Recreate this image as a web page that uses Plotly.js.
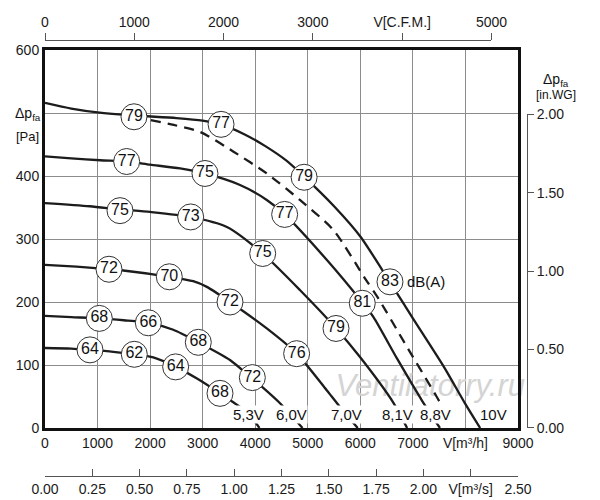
<!DOCTYPE html>
<html>
<head>
<meta charset="utf-8">
<script src="https://cdn.plot.ly/plotly-3.0.1.min.js"></script>
<style>
body{margin:0;background:#fff}
#chart{width:600px;height:500px}
</style>
</head>
<body>
<div id="chart"></div>
<script>
// fan curves, V in m3/h, dp in Pa
var v53 = [0, 500, 860, 1300, 1700, 2060, 2490, 2900, 3330, 3560, 3860, 4080]
var p53 = [127, 126, 124, 121, 117, 112, 97, 78, 55, 42, 24, 0]
var v60 = [0, 500, 1030, 1500, 1970, 2440, 2920, 3520, 3920, 4120, 4500, 4900]
var p60 = [178, 176, 174, 171, 167, 156, 136, 108, 80, 66, 37, 0]
var v70 = [0, 600, 1220, 1490, 2365, 2820, 3080, 3520, 4220, 4790, 5360, 5580, 5950]
var p70 = [259, 256, 252, 250, 240, 233, 224, 200, 158, 118, 60, 37, 0]
var v81 = [0, 850, 1430, 2000, 2770, 3460, 4140, 4850, 5540, 5990, 6630, 6890]
var p81 = [357, 352, 347, 343, 335, 319, 277, 219, 158, 113, 40, 0]
var v88 = [0, 500, 1050, 1550, 2000, 2570, 3040, 3700, 4220, 4560, 5360, 6040, 6250, 6700, 7170, 7515]
var p88 = [431, 428, 425, 423, 418, 412, 404, 386, 362, 339, 267, 199, 176, 110, 44, 0]
var v100 = [0, 500, 1000, 1700, 2500, 3000, 3350, 3800, 4200, 4600, 4930, 5500, 6000, 6560, 7000, 7590, 8000, 8280]
var p100 = [516, 507, 501, 496, 492, 488, 482, 466, 447, 424, 399, 352, 304, 232, 174, 97, 38, 0]
// dashed curve
var vDash = [1700, 2000, 2450, 2950, 3580, 4220, 4850, 5490, 6100, 6340, 6850, 7450, 7600]
var pDash = [494, 489, 481, 470, 439, 404, 362, 314, 236, 206, 134, 50, 28]

// noise level circles dB(A)
var labV = [1693, 3350, 4930, 6564, 1554, 3044, 4560, 6037, 1427, 2772, 4142, 5537,
            1218, 2365, 3520, 4788, 1034, 1966, 2917, 3945, 856, 1699, 2486, 3330]
var labP = [494, 482, 398, 232, 423, 404, 339, 198, 345, 335, 277, 158,
            252, 240, 200, 118, 174, 167, 136, 80, 124, 117, 97, 55]
var labText = ['79', '77', '79', '83', '77', '75', '77', '81', '75', '73', '75', '79',
               '72', '70', '72', '76', '68', '66', '68', '72', '64', '62', '64', '68']

var voltText = ['5,3V', '6,0V', '7,0V', '8,1V', '8,8V', '10V']
var voltV = [3880, 4690, 5740, 6716, 7436, 8530]

var xTicks = [0, 1000, 2000, 3000, 4000, 5000, 6000, 7000, 8000, 9000]
var xTickText = ['0', '1000', '2000', '3000', '4000', '5000', '6000', '7000', 'V[m\u00b3/h]', '9000']
var yTicks = [0, 100, 200, 300, 400, 500, 600]
var yTickText = ['0', '100', '200', '300', '400', '', '600']
var cfmTicks = [0, 1000, 2000, 3000, 4000, 5000]
var cfmTickText = ['0', '1000', '2000', '3000', 'V[C.F.M.]', '5000']
var m3sTicks = [0, 0.25, 0.5, 0.75, 1, 1.25, 1.5, 1.75, 2, 2.25, 2.5]
var m3sTickText = ['0.00', '0.25', '0.50', '0.75', '1.00', '1.25', '1.50', '1.75', '2.00', 'V[m\u00b3/s]', '2.50']
var wgTicks = [0, 0.5, 1, 1.5, 2]
var wgTickText = ['0.00', '0.50', '1.00', '1.50', '2.00']

var CFM = 1.69901   // m3/h per cfm
var INWG = 249.089  // Pa per in.WG

var font = 'Liberation Sans, Arial, sans-serif'
var ink = '#1c1c1c'

// plot frame in pixels: x 45..518, y 50..428 ; outer axes at y=40, y=476, x=527
var W = 482, H = 436
var xDom = [0, 473 / W]
var yDom = [48 / H, 426 / H]
var yDomWG = [yDom[0], yDom[0] + (2 * INWG / 600) * (yDom[1] - yDom[0])]
var cfmDom = [0, xDom[1] * (5000 * CFM / 9000)]

function px(x){ return (x - 45) / W }
function py(y){ return (476 - y) / H }

function curve(v, p, dash){
	return {
		x: v, y: p, mode: 'lines', type: 'scatter',
		line: {color: ink, width: 2.3, shape: 'spline', smoothing: 0.7, dash: dash || 'solid'},
		hoverinfo: 'skip', showlegend: false
	}
}

var data = [
	{x: [7330], y: [63], mode: 'text', text: ['Ventilatorry.ru'], cliponaxis: false,
	 textfont: {family: font, size: 31, color: '#d4d4d4', style: 'italic'},
	 hoverinfo: 'skip', showlegend: false},
	curve(v53, p53), curve(v60, p60), curve(v70, p70), curve(v81, p81),
	curve(v88, p88), curve(v100, p100), curve(vDash, pDash, '10px,7px'),
	{x: labV, y: labP, mode: 'markers+text', text: labText, textposition: 'middle center',
	 marker: {size: 26, color: '#fff', line: {color: '#333', width: 1}},
	 textfont: {family: font, size: 16, color: '#111'},
	 hoverinfo: 'skip', showlegend: false},
	// keep the extra axes alive
	{x: [0], y: [0], xaxis: 'x2', yaxis: 'y2', mode: 'markers', marker: {opacity: 0}, hoverinfo: 'skip', showlegend: false},
	{x: [0], y: [0], xaxis: 'x3', yaxis: 'y2', mode: 'markers', marker: {opacity: 0}, hoverinfo: 'skip', showlegend: false}
]

var annotations = []
for (var i = 0; i < voltText.length; i++) {
	annotations.push({x: voltV[i], y: 21, xref: 'x', yref: 'y', text: voltText[i], showarrow: false,
		font: {family: font, size: 15, color: '#111'}, bgcolor: '#fff', borderpad: 0})
}
annotations.push({x: 6850, y: 232, xref: 'x', yref: 'y', xanchor: 'left', text: 'dB(A)', showarrow: false,
	font: {family: font, size: 15, color: '#111'}})
annotations.push({x: px(28), y: py(103), xref: 'paper', yref: 'paper', xanchor: 'center', text: '\u0394p<sub>fa</sub>', showarrow: false,
	font: {family: font, size: 14, color: '#111'}})
annotations.push({x: px(27), y: py(127), xref: 'paper', yref: 'paper', xanchor: 'center', text: '[Pa]', showarrow: false,
	font: {family: font, size: 13, color: '#111'}})
annotations.push({x: px(556), y: py(69), xref: 'paper', yref: 'paper', xanchor: 'center', text: '\u0394p<sub>fa</sub>', showarrow: false,
	font: {family: font, size: 14, color: '#111'}})
annotations.push({x: px(556), y: py(86), xref: 'paper', yref: 'paper', xanchor: 'center', text: '[in.WG]', showarrow: false,
	font: {family: font, size: 12, color: '#111'}})

var tickFont = {family: font, size: 14, color: '#1a1a1a'}

var layout = {
	width: 600, height: 500,
	margin: {l: 45, r: 73, t: 40, b: 24},
	paper_bgcolor: '#fff', plot_bgcolor: 'rgba(0,0,0,0)',
	showlegend: false, hovermode: false,
	xaxis: {domain: xDom, range: [0, 9000], tickvals: xTicks, ticktext: xTickText, tickfont: tickFont,
		showgrid: true, gridcolor: '#8c8c8c', gridwidth: 1, zeroline: false,
		showline: true, linecolor: '#111', linewidth: 3, mirror: true, ticks: '', fixedrange: true},
	yaxis: {domain: yDom, range: [0, 600], tickvals: yTicks, ticktext: yTickText, tickfont: tickFont,
		showgrid: true, gridcolor: '#8c8c8c', gridwidth: 1, zeroline: false,
		showline: true, linecolor: '#111', linewidth: 3, mirror: true, ticks: '', fixedrange: true},
	xaxis2: {domain: cfmDom, range: [0, 5000], anchor: 'free', position: 1, side: 'top',
		tickvals: cfmTicks, ticktext: cfmTickText, tickfont: tickFont,
		ticks: 'outside', ticklen: 7, tickcolor: '#555', showline: true, linecolor: '#555', linewidth: 1,
		showgrid: false, zeroline: false, fixedrange: true},
	xaxis3: {domain: xDom, range: [0, 2.5], anchor: 'free', position: 0, side: 'bottom',
		tickvals: m3sTicks, ticktext: m3sTickText, tickfont: tickFont,
		ticks: 'inside', ticklen: 7, tickcolor: '#555', showline: true, linecolor: '#555', linewidth: 1,
		showgrid: false, zeroline: false, fixedrange: true},
	yaxis2: {domain: yDomWG, range: [0, 2], anchor: 'free', position: 1, side: 'right',
		tickvals: wgTicks, ticktext: wgTickText, tickfont: tickFont,
		ticks: 'outside', ticklen: 6, tickcolor: '#555', showline: true, linecolor: '#555', linewidth: 1,
		showgrid: false, zeroline: false, fixedrange: true},
	annotations: annotations
}

Plotly.newPlot('chart', data, layout, {displayModeBar: false, staticPlot: true})
</script>
</body>
</html>
